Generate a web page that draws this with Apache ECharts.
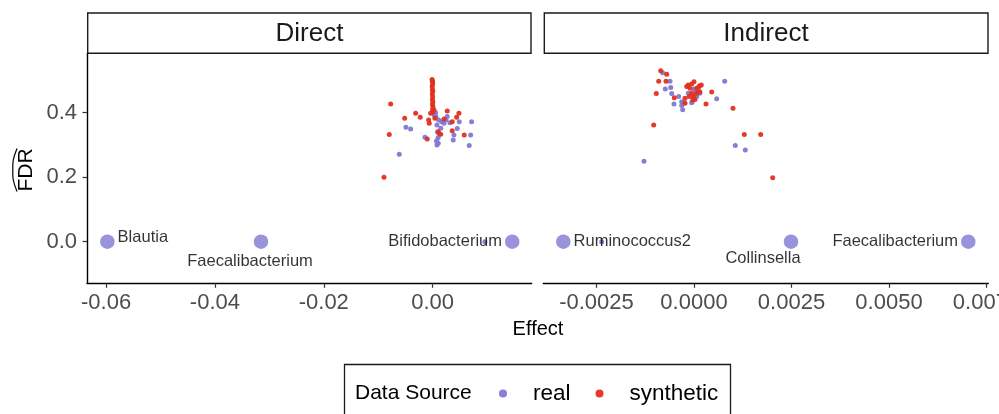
<!DOCTYPE html>
<html>
<head>
<meta charset="utf-8">
<script src="https://cdn.jsdelivr.net/npm/echarts@6/dist/echarts.min.js"></script>
<style>
  html, body { margin: 0; padding: 0; background: #fff; }
  #chart { width: 999px; height: 414px; }
</style>
</head>
<body>
<div id="chart"></div>
<script>
// ---- data ----
var panelNames = ['Direct', 'Indirect'];
var sourceNames = ['real', 'synthetic'];

// Direct panel, [effect, FDR]
var directReal = [
  [-0.00613, 0.271], [-0.00490, 0.355], [-0.00404, 0.349], [-0.00141, 0.324],
  [0.00055, 0.400], [0.00103, 0.305], [0.00208, 0.367], [0.00268, 0.388],
  [0.00318, 0.369], [0.00391, 0.331], [0.00378, 0.315], [0.00452, 0.351],
  [0.00489, 0.372], [0.00716, 0.372], [0.00698, 0.331], [0.00672, 0.298],
  [0.00165, 0.372], [0.00244, 0.377], [0.00000, 0.496], [0.00060, 0.387],
  [0.00080, 0.362], [0.00090, 0.340], [0.00100, 0.322], [0.00110, 0.377],
  [0.00150, 0.352], [0.00080, 0.300], [0.00070, 0.312], [0.00120, 0.333],
  [0.00030, 0.392], [0.00960, 0.000]
];
var directSynthetic = [
  [-0.00771, 0.427], [-0.00797, 0.332], [-0.00894, 0.200], [-0.00514, 0.383],
  [-0.00312, 0.398], [-0.00228, 0.386], [-0.00099, 0.318], [-0.00062, 0.367],
  [-0.00073, 0.377], [-0.00037, 0.398], [0.00103, 0.341], [0.00147, 0.333],
  [0.00268, 0.405], [0.00208, 0.380], [0.00360, 0.372], [0.00441, 0.386],
  [0.00483, 0.398], [0.00360, 0.344], [0.00580, 0.331], [0.00024, 0.408],
  [0.00042, 0.383],
  [-0.00010, 0.503], [-0.00005, 0.497], [0.00000, 0.489], [-0.00008, 0.481],
  [-0.00003, 0.472], [0.00002, 0.466], [-0.00006, 0.458], [0.00000, 0.449],
  [-0.00004, 0.441], [0.00003, 0.433], [-0.00002, 0.425], [0.00005, 0.418],
  [-0.00001, 0.410], [0.00004, 0.402]
];
var directTaxa = ['Blautia', 'Faecalibacterium', 'Bifidobacterium'];
var directTaxaEffect = [-0.05976, -0.03153, 0.01462];
var directTaxaFdr = [0, 0, 0];

// Indirect panel, [effect, FDR]
var indirectReal = [
  [-0.000803, 0.524], [-0.000615, 0.497], [-0.000597, 0.478], [-0.000736, 0.473],
  [-0.000572, 0.459], [-0.000392, 0.450], [-0.000513, 0.427], [-0.000315, 0.434],
  [-0.000256, 0.431], [-0.000315, 0.422], [-0.000290, 0.409], [-0.000044, 0.434],
  [0.000051, 0.465], [0.000121, 0.479], [0.000787, 0.497], [0.000582, 0.443],
  [0.001059, 0.298], [0.001315, 0.284], [-0.001282, 0.249], [-0.000146, 0.460],
  [0.000026, 0.452], [0.000070, 0.450], [0.000000, 0.473], [0.000150, 0.460],
  [-0.000060, 0.431], [-0.002367, 0.000]
];
var indirectSynthetic = [
  [-0.000854, 0.530], [-0.000700, 0.519], [-0.000905, 0.497], [-0.000718, 0.497],
  [-0.000967, 0.459], [-0.000505, 0.446], [-0.001033, 0.362], [-0.000146, 0.486],
  [0.000000, 0.496], [0.000187, 0.486], [0.000454, 0.464], [0.000308, 0.427],
  [0.001000, 0.414], [0.001290, 0.332], [0.001710, 0.332], [0.002018, 0.198],
  [-0.000231, 0.445], [-0.000059, 0.460], [-0.000018, 0.450], [0.000069, 0.476],
  [-0.000103, 0.476], [0.000026, 0.441], [-0.000187, 0.481], [-0.000060, 0.489],
  [0.000136, 0.483], [0.000070, 0.460], [-0.000030, 0.439], [-0.000120, 0.450],
  [0.000150, 0.465], [-0.000230, 0.429]
];
var indirectTaxa = ['Ruminococcus2', 'Collinsella', 'Faecalibacterium'];
var indirectTaxaEffect = [-0.003351, 0.002487, 0.007033];
var indirectTaxaFdr = [0, 0, 0];

var directTicks = [-0.06, -0.04, -0.02, 0];
var indirectTicks = [-0.0025, 0, 0.0025, 0.005, 0.0075];
var fdrTicks = [0, 0.2, 0.4];

// ---- styling ----
var realColor = '#8078D3';
var synthColor = '#E1301F';
var font = 'Liberation Sans, Arial, Helvetica, sans-serif';

// where each taxon label sits next to its point
var labelPlace = {
  'Direct:Blautia': { position: 'right', distance: 3, offset: [0, -4] },
  'Direct:Faecalibacterium': { position: 'bottom', distance: 4, offset: [-11, 0] },
  'Direct:Bifidobacterium': { position: 'left', distance: 3, offset: [0, 0] },
  'Indirect:Ruminococcus2': { position: 'right', distance: 3, offset: [0, 0] },
  'Indirect:Collinsella': { position: 'bottom', distance: 1, offset: [-28, 0] },
  'Indirect:Faecalibacterium': { position: 'left', distance: 3, offset: [0, 0] }
};

function taxaData(panel, names, xs, ys) {
  var out = [];
  for (var i = 0; i < names.length; i++) {
    var p = labelPlace[panel + ':' + names[i]];
    out.push({
      name: names[i],
      value: [xs[i], ys[i]],
      label: {
        show: true,
        formatter: names[i],
        position: p.position,
        distance: p.distance,
        offset: p.offset,
        color: '#000',
        fontSize: 16.5,
        fontFamily: font
      }
    });
  }
  return out;
}

function pointSeries(name, data, idx, color) {
  return {
    name: name,
    type: 'scatter',
    xAxisIndex: idx,
    yAxisIndex: idx,
    data: data,
    symbolSize: 5,
    itemStyle: { color: color, opacity: 0.95 },
    emphasis: { disabled: true },
    silent: true
  };
}

function bigSeries(data, idx) {
  return {
    name: 'real',
    type: 'scatter',
    xAxisIndex: idx,
    yAxisIndex: idx,
    data: data,
    symbolSize: 14.5,
    itemStyle: { color: realColor },
    emphasis: { disabled: true },
    silent: true,
    z: 3
  };
}

var yMin = -0.129, yMax = 0.584;

function xAxisCfg(idx, min, max, ticks, digits) {
  return {
    type: 'value',
    gridIndex: idx,
    min: min,
    max: max,
    splitLine: { show: false },
    axisLine: { show: true, onZero: false, lineStyle: { color: '#000', width: 1.4 } },
    axisTick: { show: true, length: 4.5, customValues: ticks, lineStyle: { color: '#333', width: 1.2 } },
    axisLabel: {
      customValues: ticks,
      margin: 9,
      fontSize: 22,
      color: '#4D4D4D',
      fontFamily: font,
      formatter: function (v) { return v.toFixed(digits); }
    }
  };
}

var myChart = echarts.init(document.getElementById('chart'));

var option = {
  animation: false,
  backgroundColor: '#fff',
  grid: [
    { left: 87, top: 53.3, width: 444.7, height: 230, outerBoundsMode: 'none', containLabel: false },
    { left: 543.3, top: 53.3, width: 445, height: 230, outerBoundsMode: 'none', containLabel: false }
  ],
  xAxis: [
    xAxisCfg(0, -0.0635, 0.0182, directTicks, 2),
    xAxisCfg(1, -0.003864, 0.007546, indirectTicks, 4)
  ],
  yAxis: [
    {
      type: 'value',
      gridIndex: 0,
      min: yMin,
      max: yMax,
      splitLine: { show: false },
      axisLine: { show: true, onZero: false, lineStyle: { color: '#000', width: 1.4 } },
      axisTick: { show: true, length: 4.5, customValues: fdrTicks, lineStyle: { color: '#333', width: 1.2 } },
      axisLabel: {
        customValues: fdrTicks,
        margin: 10,
        fontSize: 22,
        color: '#4D4D4D',
        fontFamily: font,
        formatter: function (v) { return v.toFixed(1); }
      }
    },
    {
      type: 'value',
      gridIndex: 1,
      min: yMin,
      max: yMax,
      show: false,
      splitLine: { show: false }
    }
  ],
  legend: {
    data: sourceNames,
    left: 499,
    top: 382,
    padding: 0,
    icon: 'circle',
    itemWidth: 8,
    itemHeight: 8,
    itemGap: 25,
    selectedMode: false,
    textStyle: { fontSize: 22.5, color: '#000', fontFamily: font, padding: [0, 0, 0, 21] }
  },
  series: [
    pointSeries('real', directReal, 0, realColor),
    pointSeries('synthetic', directSynthetic, 0, synthColor),
    pointSeries('real', indirectReal, 1, realColor),
    pointSeries('synthetic', indirectSynthetic, 1, synthColor),
    bigSeries(taxaData(panelNames[0], directTaxa, directTaxaEffect, directTaxaFdr), 0),
    bigSeries(taxaData(panelNames[1], indirectTaxa, indirectTaxaEffect, indirectTaxaFdr), 1)
  ],
  graphic: [
    // facet strips
    { type: 'rect', shape: { x: 87.7, y: 13, width: 443.3, height: 40.3 },
      style: { fill: '#fff', stroke: '#1a1a1a', lineWidth: 1.4 }, z: 10 },
    { type: 'text', x: 309.5, y: 34, style: { text: panelNames[0], fontSize: 26, fill: '#1a1a1a',
      fontFamily: font, align: 'center', verticalAlign: 'middle' }, z: 11 },
    { type: 'rect', shape: { x: 544.3, y: 13, width: 443.7, height: 40.3 },
      style: { fill: '#fff', stroke: '#1a1a1a', lineWidth: 1.4 }, z: 10 },
    { type: 'text', x: 766, y: 34, style: { text: panelNames[1], fontSize: 26, fill: '#1a1a1a',
      fontFamily: font, align: 'center', verticalAlign: 'middle' }, z: 11 },
    // axis titles
    { type: 'text', x: 538, y: 329, style: { text: 'Effect', fontSize: 20, fill: '#000',
      fontFamily: font, align: 'center', verticalAlign: 'middle' } },
    { type: 'text', x: 26, y: 170, rotation: Math.PI / 2, style: { text: 'FDR', fontSize: 21,
      fill: '#000', fontFamily: font, align: 'center', verticalAlign: 'middle' } },
    { type: 'polyline', shape: { points: [[17, 148.5], [13.3, 160], [12.8, 170], [13.3, 180], [17, 191.5]], smooth: 0.4 },
      style: { stroke: '#000', lineWidth: 1.2, fill: null } },
    // legend box and title
    { type: 'rect', shape: { x: 344.5, y: 364.5, width: 386, height: 70 },
      style: { fill: 'none', stroke: '#1a1a1a', lineWidth: 1.3 } },
    { type: 'text', x: 355, y: 393, style: { text: 'Data Source', fontSize: 21, fill: '#000',
      fontFamily: font, align: 'left', verticalAlign: 'middle' } }
  ]
};

myChart.setOption(option);
</script>
</body>
</html>
